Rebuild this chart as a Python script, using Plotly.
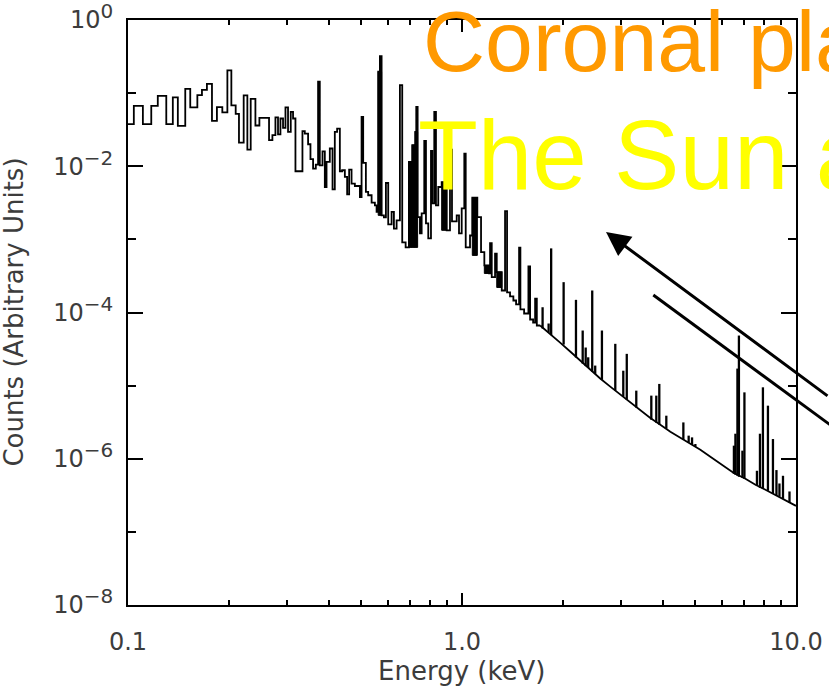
import plotly.graph_objects as go

# ---------------- data ----------------
# binned spectrum, low/intermediate energies (left bin edge in keV, counts)
step_energy = [0.1000, 0.1041, 0.1108, 0.1174, 0.1228, 0.1302, 0.1362, 0.1410, 0.1484, 0.1536,
               0.1613, 0.1665, 0.1723, 0.1784, 0.1846, 0.1916, 0.1984, 0.2039, 0.2101, 0.2149,
               0.2220, 0.2277, 0.2330, 0.2407, 0.2474, 0.2644, 0.2706, 0.2763, 0.2813, 0.2860,
               0.2912, 0.2961, 0.3014, 0.3071, 0.3120, 0.3172, 0.3329, 0.3383, 0.3461, 0.3518,
               0.3582, 0.3650, 0.3708, 0.3752, 0.3822, 0.3884, 0.3930, 0.4020, 0.4096, 0.4161,
               0.4228, 0.4308, 0.4377, 0.4459, 0.4530, 0.4593, 0.4670, 0.4778, 0.4946, 0.5004,
               0.5060, 0.5155, 0.5237, 0.5362, 0.5485, 0.5550, 0.5612, 0.5678, 0.5745, 0.5837,
               0.5918, 0.6013, 0.6155, 0.6254, 0.6371, 0.6518, 0.6623, 0.6780, 0.6936, 0.7096,
               0.7244, 0.7295, 0.7365, 0.7483, 0.7572, 0.7709, 0.7800, 0.7925, 0.8074, 0.8147,
               0.8260, 0.8357, 0.8491, 0.8693, 0.8998, 0.9205, 0.9333, 0.9641, 0.9795, 0.9979,
               1.0160, 1.0259, 1.0568, 1.0737, 1.1115, 1.1403, 1.1665, 1.2050, 1.2133, 1.2276,
               1.2559, 1.2707, 1.3153, 1.3456, 1.3643, 1.3926, 1.4250, 1.4518, 1.4823, 1.4957,
               1.5345, 1.5806, 1.5993, 1.6327, 1.6554, 1.6750, 1.7136]
step_counts = [3.76e-2, 6.70e-2, 3.76e-2, 6.70e-2, 9.18e-2, 3.76e-2, 8.73e-2, 3.57e-2, 1.145e-1, 6.37e-2,
               9.39e-2, 1.11e-1, 1.34e-1, 4.17e-2, 6.43e-2, 5.44e-2, 2.05e-1, 6.79e-2, 5.20e-2, 2.11e-2,
               9.30e-2, 1.69e-2, 8.35e-2, 3.61e-2, 4.60e-2, 2.27e-2, 2.66e-2, 4.65e-2, 2.72e-2, 4.50e-2,
               3.35e-2, 6.37e-2, 2.95e-2, 5.54e-2, 4.50e-2, 8.54e-3, 3.02e-2, 2.80e-2, 2.00e-2, 1.25e-2,
               9.30e-3, 1.055e-2, 1.43e-1, 1.03e-2, 1.60e-2, 5.20e-3, 1.145e-2, 1.75e-2, 4.84e-3, 2.95e-2,
               3.28e-2, 8.54e-3, 8.82e-3, 7.14e-3, 4.13e-3, 9.01e-3, 5.79e-3, 5.37e-3, 3.80e-3, 4.74e-2,
               1.11e-2, 4.45e-3, 4.01e-3, 3.18e-3, 2.92e-3, 2.37e-3, 1.96e-1, 3.21e-1, 2.13e-3, 2.00e-3,
               5.90e-3, 1.60e-3, 2.37e-3, 1.40e-3, 1.82e-3, 1.287e-1, 9.10e-4, 7.77e-4, 1.145e-2, 1.94e-2,
               2.95e-2, 6.49e-2, 2.02e-3, 1.21e-3, 2.27e-3, 2.22e-2, 1.66e-3, 1.03e-3, 1.62e-2, 3.11e-3,
               5.54e-2, 2.92e-3, 5.20e-3, 6.04e-3, 1.33e-3, 1.69e-2, 1.76e-3, 2.13e-3, 1.21e-3, 2.66e-3,
               1.49e-2, 7.77e-4, 1.13e-3, 3.73e-3, 2.02e-3, 6.70e-4, 4.40e-4, 3.42e-4, 8.90e-4, 3.05e-4,
               6.37e-4, 3.57e-4, 2.00e-4, 2.44e-3, 1.88e-4, 1.66e-4, 1.46e-4, 1.29e-4, 7.70e-4, 1.10e-4,
               9.69e-5, 4.27e-4, 8.02e-5, 7.29e-5, 1.55e-4, 6.64e-5, 6.64e-5]

# unresolved line blends (solid black in the original)
blend_lo = [0.5612, 0.6936, 0.7096, 0.7244, 0.8693, 1.0737, 1.1665, 1.2707]
blend_hi = [0.5745, 0.7096, 0.7244, 0.7365, 0.8998, 1.1115, 1.2050, 1.3153]
blend_floor = [2.13e-3, 7.77e-4, 7.77e-4, 7.77e-4, 1.33e-3, 6.04e-4, 3.42e-4, 2.20e-4]
blend_top = [1.96e-1, 1.145e-2, 1.94e-2, 2.95e-2, 6.04e-3, 3.73e-3, 4.40e-4, 3.57e-4]

# high-energy continuum
cont_energy = [1.714, 1.836, 1.967, 2.108, 2.259, 2.420, 2.593, 2.779, 2.978, 3.191,
               3.418, 3.663, 3.925, 4.205, 4.505, 4.827, 5.172, 5.541, 5.937, 6.495,
               7.056, 7.561, 8.100, 8.679, 9.299, 10.0]
cont_counts = [6.64e-5, 5.00e-5, 3.88e-5, 2.93e-5, 2.20e-5, 1.66e-5, 1.25e-5, 9.69e-6, 7.53e-6, 5.85e-6,
               4.55e-6, 3.60e-6, 2.92e-6, 2.34e-6, 1.94e-6, 1.60e-6, 1.33e-6, 1.065e-6, 8.54e-7, 6.43e-7,
               5.32e-7, 4.40e-7, 3.76e-7, 3.21e-7, 2.74e-7, 2.27e-7]

# high-energy emission lines
line_energy = [1.743, 1.817, 1.849, 2.015, 2.194, 2.298, 2.346, 2.387, 2.454, 2.505,
               2.624, 2.877, 3.040, 3.114, 3.325, 3.688, 3.817, 3.897, 4.090, 4.600,
               4.771, 4.884, 4.997, 6.518, 6.586, 6.678, 6.747, 6.912, 7.008, 7.640,
               7.800, 7.961, 8.241, 8.531, 8.739, 8.922, 9.142, 9.561]
line_peak = [1.18e-4, 7.07e-5, 7.53e-4, 2.60e-4, 1.49e-4, 5.67e-5, 3.32e-5, 2.44e-5, 2.00e-4, 1.88e-5,
             5.67e-5, 3.73e-5, 1.60e-5, 2.72e-5, 8.54e-6, 7.30e-6, 7.30e-6, 1.055e-5, 3.88e-6, 3.14e-6,
             2.07e-6, 1.96e-6, 1.59e-6, 1.51e-6, 2.20e-6, 1.71e-5, 4.84e-5, 1.29e-6, 8.09e-6, 6.85e-7,
             2.20e-6, 9.48e-6, 5.32e-6, 1.86e-6, 7.00e-7, 4.59e-7, 5.85e-7, 3.57e-7]
line_base = [6.04e-5, 5.32e-5, 4.90e-5, 3.64e-5, 2.42e-5, 2.00e-5, 1.85e-5, 1.74e-5, 1.55e-5, 1.45e-5,
             1.20e-5, 8.54e-6, 7.07e-6, 6.43e-6, 5.00e-6, 3.42e-6, 3.11e-6, 2.92e-6, 2.58e-6, 1.82e-6,
             1.66e-6, 1.55e-6, 1.46e-6, 6.23e-7, 6.04e-7, 5.85e-7, 5.67e-7, 5.49e-7, 5.32e-7, 4.27e-7,
             4.01e-7, 3.88e-7, 3.64e-7, 3.32e-7, 3.11e-7, 3.02e-7, 2.83e-7, 2.50e-7]

# axes
x_tickvals = [0.1, 1.0, 10.0]
x_ticktext = ["0.1", "1.0", "10.0"]
x_minor = [0.2, 0.3, 0.4, 0.5, 0.6, 0.7, 0.8, 0.9, 2, 3, 4, 5, 6, 7, 8, 9]
y_tickvals = [1, 1e-2, 1e-4, 1e-6, 1e-8]
y_exponents = ["0", "\u22122", "\u22124", "\u22126", "\u22128"]
y_minor = [1e-1, 1e-3, 1e-5, 1e-7]

y_ticktext = ["10<sup><span style='font-size:20px'>%s</span></sup>" % e for e in y_exponents]

# ---------------- build figure ----------------
fig = go.Figure()

fig.add_trace(go.Scatter(x=step_energy, y=step_counts, mode="lines",
                         line=dict(color="black", width=1.8, shape="hv"), hoverinfo="skip"))

bx, by = [], []
for lo, hi, fl, tp in zip(blend_lo, blend_hi, blend_floor, blend_top):
    bx += [lo, hi, hi, lo, lo, None]
    by += [fl, fl, tp, tp, fl, None]
fig.add_trace(go.Scatter(x=bx, y=by, mode="lines", fill="toself", fillcolor="black",
                         line=dict(color="black", width=1), hoverinfo="skip"))

fig.add_trace(go.Scatter(x=cont_energy, y=cont_counts, mode="lines",
                         line=dict(color="black", width=1.8), hoverinfo="skip"))

sx, sy = [], []
for e, b, p in zip(line_energy, line_base, line_peak):
    sx += [e, e, None]
    sy += [b, p, None]
fig.add_trace(go.Scatter(x=sx, y=sy, mode="lines",
                         line=dict(color="black", width=2.3), hoverinfo="skip"))

txt_col = "#3c3c3c"
fig.update_layout(
    width=829, height=689,
    margin=dict(l=128, r=33, t=20, b=84, autoexpand=False),
    plot_bgcolor="white", paper_bgcolor="white",
    showlegend=False,
    font=dict(family="DejaVu Sans", color=txt_col, size=24),
    xaxis=dict(type="log", range=[-1, 1], tickmode="array", tickvals=x_tickvals, ticktext=x_ticktext,
               ticks="inside", ticklen=12, tickwidth=1.5, tickcolor="black",
               showline=True, linecolor="black", linewidth=2, mirror="ticks",
               showgrid=False, zeroline=False, tickfont=dict(size=24, color=txt_col),
               ticklabelstandoff=14, ticklabeloverflow="allow", automargin=False,
               minor=dict(tickmode="array", tickvals=x_minor, ticks="inside", ticklen=5,
                          tickwidth=1.5, tickcolor="black", showgrid=False)),
    yaxis=dict(type="log", range=[-8, 0], tickmode="array", tickvals=y_tickvals, ticktext=y_ticktext,
               ticks="inside", ticklen=15, tickwidth=1.5, tickcolor="black",
               showline=True, linecolor="black", linewidth=2, mirror="ticks",
               showgrid=False, zeroline=False, tickfont=dict(size=24, color=txt_col),
               ticklabelstandoff=8, ticklabeloverflow="allow", automargin=False,
               minor=dict(tickmode="array", tickvals=y_minor, ticks="inside", ticklen=8,
                          tickwidth=1.5, tickcolor="black", showgrid=False)),
)

annotations = [
    dict(text="Energy (keV)", xref="paper", yref="paper", x=0.5, y=-0.142,
         xanchor="center", yanchor="bottom", showarrow=False,
         font=dict(family="DejaVu Sans", size=26, color=txt_col)),
    dict(text="Counts (Arbitrary Units)", xref="paper", yref="paper", x=-0.172, y=0.5,
         xanchor="center", yanchor="middle", textangle=-90, showarrow=False,
         font=dict(family="DejaVu Sans", size=26, color=txt_col)),
    dict(text="Coronal pla", xref="paper", yref="paper", x=0.4386, y=0.8791,
         xanchor="left", yanchor="bottom", showarrow=False,
         font=dict(family="Liberation Sans", size=86, color="#FF9900")),
    dict(text="The Sun a", xref="paper", yref="paper", x=0.4311, y=0.6725,
         xanchor="left", yanchor="bottom", showarrow=False,
         font=dict(family="Liberation Sans", size=98, color="#FFFF00")),
    dict(text="", xref="paper", yref="paper", x=0.7156, y=0.6376, ax=244, ay=165,
         showarrow=True, arrowhead=2, arrowsize=1.6, arrowwidth=3, arrowcolor="black", standoff=0),
]
fig.update_layout(annotations=annotations)

fig.add_shape(type="line", xref="paper", yref="paper", x0=0.7864, y0=0.5299, x1=1.0808, y1=0.2831,
              line=dict(color="black", width=3))

fig.write_html("out.html")
